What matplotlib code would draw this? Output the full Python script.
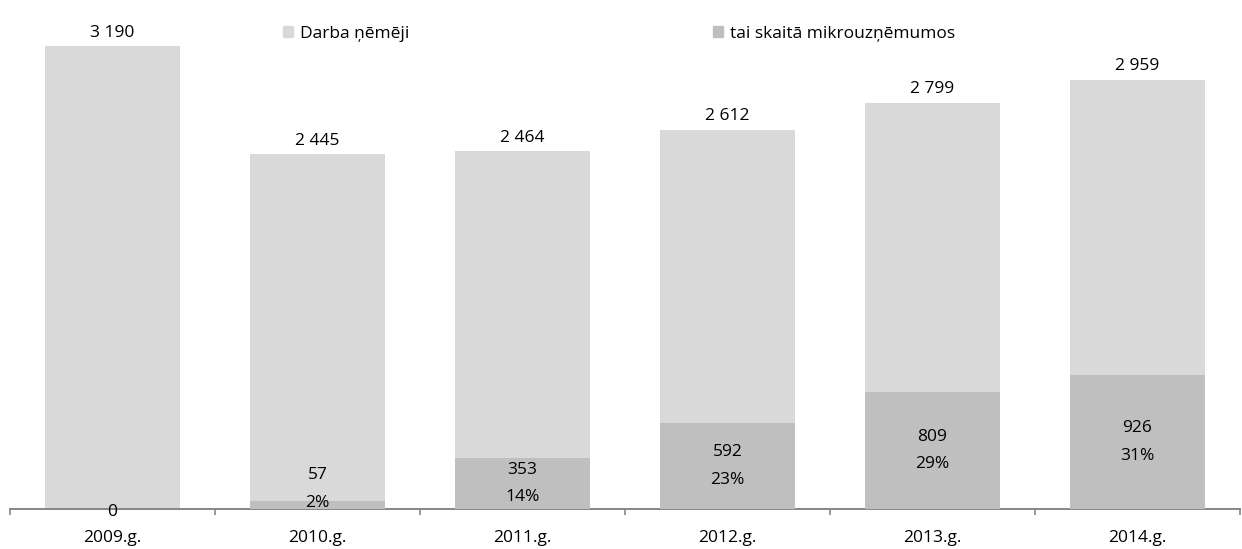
import matplotlib
matplotlib.use("Agg")
import matplotlib.pyplot as plt
from matplotlib.patches import Patch

plt.rcParams['font.family'] = ['Open Sans', 'DejaVu Sans']

years = ["2009.g.", "2010.g.", "2011.g.", "2012.g.", "2013.g.", "2014.g."]
employees = [3190, 2445, 2464, 2612, 2799, 2959]
micro = [0, 57, 353, 592, 809, 926]
micro_pct = ["", "2%", "14%", "23%", "29%", "31%"]
total_labels = ["3 190", "2 445", "2 464", "2 612", "2 799", "2 959"]

light = "#D9D9D9"
dark = "#BFBFBF"
axis_gray = "#868686"
FS = 12.5

fig = plt.figure(figsize=(12.42, 5.49), dpi=100)
W, H = 1242, 549
ax = fig.add_axes([10 / W, (H - 509) / H, 1230 / W, 499 / H])

x = list(range(len(years)))
ax.bar(x, employees, width=0.66, color=light, zorder=2)
ax.bar(x, micro, width=0.66, color=dark, zorder=3)

ax.set_xlim(-0.5, len(years) - 0.5)
ax.set_ylim(0, 499 / 0.1451)

for i, (v, lab) in enumerate(zip(employees, total_labels)):
    ax.annotate(lab, (i, v), xytext=(0, 4), textcoords="offset points",
                ha="center", va="bottom", fontsize=FS, color="#000000")

for i, (v, p) in enumerate(zip(micro, micro_pct)):
    if v == 0:
        ax.text(i, -20, "0", ha="center", va="center", fontsize=FS, zorder=5)
    else:
        yc = max(v / 2, 138)
        ax.text(i, yc, f"{v}\n{p}", ha="center", va="center", fontsize=FS,
                linespacing=1.95, zorder=5)

for s in ["top", "right", "left"]:
    ax.spines[s].set_visible(False)
ax.spines["bottom"].set_color(axis_gray)
ax.spines["bottom"].set_linewidth(1.4)
ax.set_yticks([])
ax.set_xticks([i - 0.5 for i in range(len(years) + 1)], minor=False)
ax.set_xticklabels([""] * (len(years) + 1))
ax.set_xticks(x, minor=True)
ax.set_xticklabels(years, minor=True, fontsize=FS)
ax.tick_params(axis="x", which="major", length=4, width=1.2, color=axis_gray, direction="out")
ax.tick_params(axis="x", which="minor", length=0, pad=15)

fig.legend(handles=[Patch(color=light)], labels=["Darba ņēmēji"],
           loc="center left", bbox_to_anchor=(267 / W, 1 - 34 / H),
           frameon=False, fontsize=FS, handlelength=0.6, handleheight=0.6,
           handletextpad=0.4)
fig.legend(handles=[Patch(color=dark)], labels=["tai skaitā mikrouzņēmumos"],
           loc="center left", bbox_to_anchor=(697 / W, 1 - 34 / H),
           frameon=False, fontsize=FS, handlelength=0.6, handleheight=0.6,
           handletextpad=0.4)

fig.savefig("out.png", dpi=100)
